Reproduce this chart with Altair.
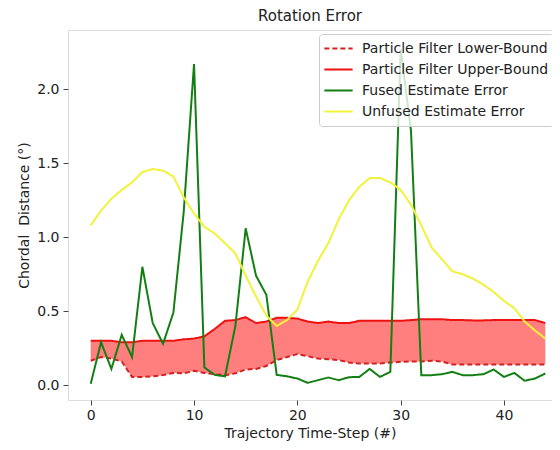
import altair as alt
import pandas as pd

steps = list(range(45))

fused = [0.01, 0.29, 0.11, 0.34, 0.19, 0.80, 0.42, 0.28, 0.49, 1.17,
         2.17, 0.12, 0.07, 0.06, 0.40, 1.06, 0.74, 0.61, 0.07, 0.06,
         0.045, 0.016, 0.034, 0.052, 0.034, 0.054, 0.056, 0.11, 0.056, 0.09,
         2.27, 1.72, 0.068, 0.068, 0.074, 0.09, 0.068, 0.068, 0.074, 0.106,
         0.056, 0.083, 0.03, 0.045, 0.079]

unfused = [1.08, 1.18, 1.26, 1.32, 1.37, 1.44, 1.46, 1.45, 1.41, 1.27,
           1.16, 1.07, 1.025, 0.96, 0.89, 0.74, 0.60, 0.47, 0.40, 0.44,
           0.51, 0.70, 0.84, 0.96, 1.12, 1.25, 1.34, 1.40, 1.40, 1.37,
           1.32, 1.22, 1.08, 0.93, 0.85, 0.77, 0.75, 0.72, 0.68, 0.63,
           0.57, 0.52, 0.43, 0.37, 0.315]

upper = [0.30, 0.30, 0.30, 0.29, 0.29, 0.30, 0.30, 0.30, 0.30, 0.31,
         0.315, 0.33, 0.38, 0.435, 0.44, 0.46, 0.42, 0.43, 0.455, 0.455,
         0.45, 0.43, 0.42, 0.43, 0.42, 0.42, 0.435, 0.435, 0.435, 0.435,
         0.435, 0.44, 0.446, 0.446, 0.446, 0.44, 0.44, 0.438, 0.438, 0.44,
         0.44, 0.44, 0.44, 0.44, 0.42]

lower = [0.165, 0.19, 0.18, 0.16, 0.056, 0.056, 0.06, 0.068, 0.083, 0.08,
         0.097, 0.083, 0.074, 0.068, 0.08, 0.106, 0.11, 0.13, 0.17, 0.19,
         0.21, 0.196, 0.18, 0.175, 0.17, 0.153, 0.146, 0.146, 0.146, 0.153,
         0.158, 0.16, 0.16, 0.165, 0.16, 0.14, 0.14, 0.14, 0.14, 0.14,
         0.14, 0.14, 0.14, 0.14, 0.14]

series_names = ["Particle Filter Lower-Bound", "Particle Filter Upper-Bound",
                "Fused Estimate Error", "Unfused Estimate Error"]
series_colors = ["#d62020", "#ee1111", "#137f13", "#f2f23a"]
series_dash = [[5, 3], [1, 0], [1, 0], [1, 0]]

band = pd.DataFrame({"step": steps, "lower": lower, "upper": upper})

rows = []
for name, vals in zip(series_names, [lower, upper, fused, unfused]):
    for s, v in zip(steps, vals):
        rows.append({"step": s, "value": v, "series": name})
lines = pd.DataFrame(rows)

xscale = alt.Scale(domain=[-2.2, 44.65], nice=False, zero=False)
yscale = alt.Scale(domain=[-0.1, 2.4], nice=False, zero=False)

xaxis = alt.Axis(values=[0, 10, 20, 30, 40], grid=False, title="Trajectory Time-Step (#)",
                 labelFontSize=14, titleFontSize=14, labelColor="#222", titleColor="#222",
                 titleFontWeight="normal", tickColor="#444", domain=False, tickSize=5,
                 labelFont="DejaVu Sans", titleFont="DejaVu Sans", titlePadding=4,
                 labelPadding=3)
yaxis = alt.Axis(values=[0.0, 0.5, 1.0, 1.5, 2.0], format=".1f", grid=False,
                 title="Chordal\u00a0 Distance (°)", labelFontSize=14, titleFontSize=14,
                 labelColor="#222", titleColor="#222", titleFontWeight="normal",
                 tickColor="#444", domain=False, tickSize=5,
                 labelFont="DejaVu Sans", titleFont="DejaVu Sans", titlePadding=5,
                 labelPadding=4)

legend_kw = dict(title=None, orient="none", legendX=251, legendY=4,
                 labelFontSize=14, labelFont="DejaVu Sans", labelLimit=0,
                 labelColor="#222", symbolType="stroke",
                 symbolSize=800, symbolStrokeWidth=2, clipHeight=21,
                 fillColor="rgba(255,255,255,0.8)", strokeColor="#ccc",
                 padding=4, rowPadding=0, cornerRadius=3, labelOffset=8)

area = alt.Chart(band).mark_area(color="#ff0000", opacity=0.5).encode(
    x=alt.X("step:Q", scale=xscale, axis=xaxis),
    y=alt.Y("lower:Q", scale=yscale, axis=yaxis),
    y2="upper:Q",
)

line = alt.Chart(lines).mark_line(strokeWidth=2, clip=True).encode(
    x=alt.X("step:Q", scale=xscale),
    y=alt.Y("value:Q", scale=yscale),
    color=alt.Color("series:N", sort=series_names,
                    scale=alt.Scale(domain=series_names, range=series_colors),
                    legend=alt.Legend(**legend_kw)),
    strokeDash=alt.StrokeDash("series:N", sort=series_names,
                              scale=alt.Scale(domain=series_names, range=series_dash),
                              legend=alt.Legend(**legend_kw)),
    order=alt.Order("step:Q"),
)

chart = alt.layer(area, line).properties(
    width=484, height=370,
    title=alt.Title("Rotation Error", fontSize=15, fontWeight="normal",
                    font="DejaVu Sans", color="#222", offset=6),
    padding={"left": 60, "top": 22, "right": 0, "bottom": 42},
    autosize=alt.AutoSizeParams(type="none"),
).configure_view(stroke="#333", strokeWidth=1.2).configure(background="white")

chart.save("out.html", embed_options={"renderer": "svg", "actions": False})
